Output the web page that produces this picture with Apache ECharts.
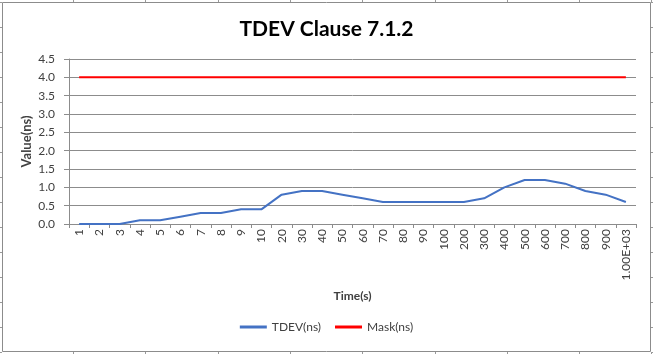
<!DOCTYPE html>
<html>
<head>
<meta charset="utf-8">
<script src="https://cdn.jsdelivr.net/npm/echarts@6/dist/echarts.min.js"></script>
<style>
  html, body { margin: 0; padding: 0; background: #fff; }
  #chart { width: 653px; height: 354px; }
</style>
</head>
<body>
<div id="chart"></div>
<script>
const categories = ['1', '2', '3', '4', '5', '6', '7', '8', '9', '10',
  '20', '30', '40', '50', '60', '70', '80', '90', '100',
  '200', '300', '400', '500', '600', '700', '800', '900', '1.00E+03']
const tdev = [0, 0, 0, 0.1, 0.1, 0.2, 0.3, 0.3, 0.4, 0.4,
  0.8, 0.9, 0.9, 0.8, 0.7, 0.6, 0.6, 0.6, 0.6,
  0.6, 0.7, 1.0, 1.2, 1.2, 1.1, 0.9, 0.8, 0.6]
const mask = [4, 4, 4, 4, 4, 4, 4, 4, 4, 4,
  4, 4, 4, 4, 4, 4, 4, 4, 4,
  4, 4, 4, 4, 4, 4, 4, 4, 4]
const yTicks = [0, 0.5, 1, 1.5, 2, 2.5, 3, 3.5, 4, 4.5]

const font = 'Lato, "Liberation Sans", sans-serif'
const gray = '#8c8c8c'

// the sheet's cell lines that peek out around the chart frame
const sheetMarks = []
for (let y = 2; y <= 354; y += 25) {
  sheetMarks.push({ type: 'line', shape: { x1: 0, y1: y + 0.5, x2: 2, y2: y + 0.5 }, style: { stroke: '#999' } })
  sheetMarks.push({ type: 'line', shape: { x1: 651, y1: y + 0.5, x2: 653, y2: y + 0.5 }, style: { stroke: '#999' } })
}
for (let x = 73; x < 653; x += 72.3) {
  const px = Math.round(x) + 0.5
  sheetMarks.push({ type: 'line', shape: { x1: px, y1: 0, x2: px, y2: 2 }, style: { stroke: '#999' } })
  sheetMarks.push({ type: 'line', shape: { x1: px, y1: 352, x2: px, y2: 354 }, style: { stroke: '#999' } })
}

const chart = echarts.init(document.getElementById('chart'))
const option = {
  backgroundColor: '#fff',
  animation: false,
  title: {
    text: 'TDEV Clause 7.1.2',
    left: 'center',
    top: 14,
    textStyle: { fontFamily: font, fontSize: 21, fontWeight: 'bold', color: '#000' }
  },
  legend: {
    bottom: 16,
    left: 'center',
    icon: 'rect',
    itemWidth: 27,
    itemHeight: 3,
    itemGap: 14,
    textStyle: { fontFamily: font, fontSize: 12, color: '#404040' },
    data: ['TDEV(ns)', 'Mask(ns)']
  },
  grid: { left: 69, right: 17, top: 59, bottom: 130 },
  xAxis: {
    type: 'category',
    data: categories,
    boundaryGap: true,
    name: 'Time(s)',
    nameLocation: 'middle',
    nameGap: 66,
    nameTextStyle: { fontFamily: font, fontSize: 12, fontWeight: 'bold', color: '#404040' },
    axisLine: { lineStyle: { color: gray } },
    axisTick: { show: true, length: 4, interval: 0, lineStyle: { color: gray } },
    axisLabel: { interval: 0, rotate: 90, margin: 5, fontFamily: font, fontSize: 12, color: '#404040' }
  },
  yAxis: {
    type: 'value',
    min: 0,
    max: 4.5,
    interval: 0.5,
    name: 'Value(ns)',
    nameLocation: 'middle',
    nameGap: 36,
    nameMoveOverlap: false,
    nameTextStyle: { fontFamily: font, fontSize: 13, fontWeight: 'bold', color: '#404040' },
    axisLine: { show: true, lineStyle: { color: gray } },
    axisTick: { show: true, length: 5, lineStyle: { color: gray } },
    splitLine: { lineStyle: { color: gray } },
    axisLabel: {
      margin: 14,
      fontFamily: font,
      fontSize: 12,
      color: '#404040',
      formatter: v => (yTicks.includes(v) ? v.toFixed(1) : '')
    }
  },
  series: [
    {
      name: 'TDEV(ns)',
      type: 'line',
      data: tdev,
      showSymbol: false,
      color: '#4472C4',
      lineStyle: { width: 2, color: '#4472C4' }
    },
    {
      name: 'Mask(ns)',
      type: 'line',
      data: mask,
      showSymbol: false,
      color: '#FF0000',
      lineStyle: { width: 2, color: '#FF0000' }
    }
  ],
  graphic: [
    {
      type: 'rect',
      shape: { x: 2.5, y: 2.5, width: 648, height: 349 },
      style: { fill: 'none', stroke: gray, lineWidth: 1 },
      silent: true
    }
  ].concat(sheetMarks)
}
chart.setOption(option)
window.addEventListener('resize', chart.resize)
</script>
</body>
</html>
